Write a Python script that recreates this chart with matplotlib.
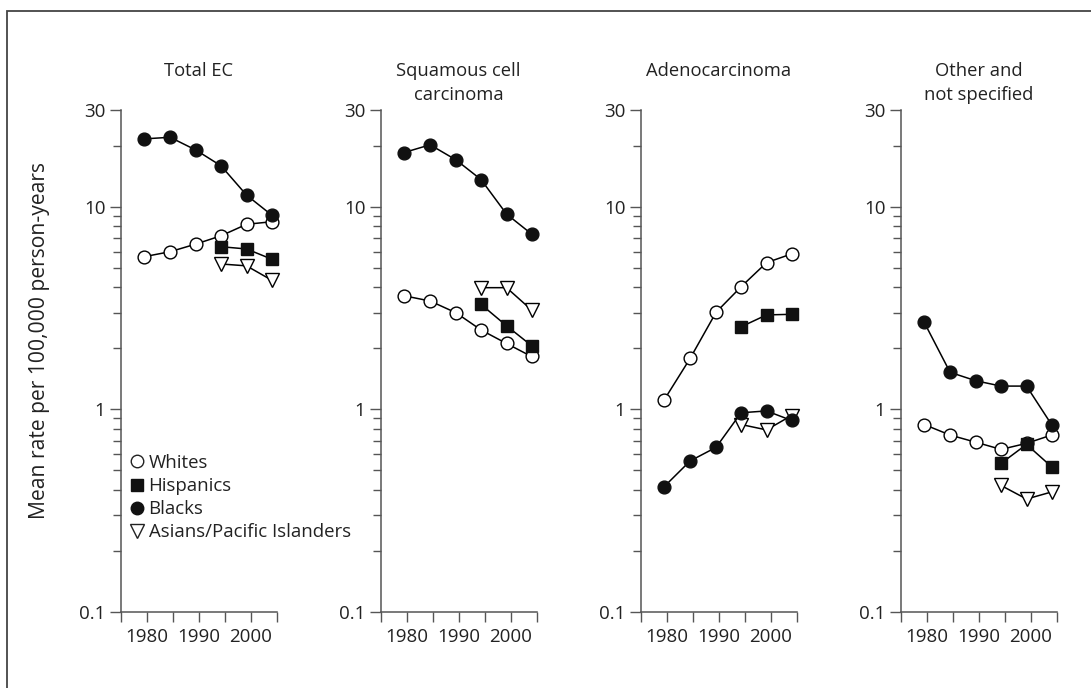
import numpy as np
import matplotlib
matplotlib.use("Agg")
import matplotlib.pyplot as plt
from matplotlib.lines import Line2D
from matplotlib.patches import Rectangle
from matplotlib.ticker import LogLocator, FixedLocator, NullFormatter, FixedFormatter

plt.rcParams['font.family'] = ['Open Sans', 'DejaVu Sans']

years = [1979.5, 1984.5, 1989.5, 1994.3, 1999.2, 2004.0]
panel_titles = ["Total EC", "Squamous cell\ncarcinoma", "Adenocarcinoma", "Other and\nnot specified"]
group_names = ["Whites", "Hispanics", "Blacks", "Asians/Pacific Islanders"]
nan = np.nan

whites = [
    [5.66, 5.99, 6.54, 7.18, 8.18, 8.42],
    [3.63, 3.42, 2.99, 2.46, 2.11, 1.82],
    [1.11, 1.78, 3.01, 4.02, 5.29, 5.84],
    [0.84, 0.745, 0.686, 0.633, 0.678, 0.745],
]
hispanics = [
    [nan, nan, nan, 6.34, 6.18, 5.51],
    [nan, nan, nan, 3.29, 2.58, 2.06],
    [nan, nan, nan, 2.55, 2.92, 2.94],
    [nan, nan, nan, 0.54, 0.67, 0.52],
]
blacks = [
    [21.6, 22.0, 19.0, 15.9, 11.4, 9.1],
    [18.5, 20.2, 17.0, 13.6, 9.19, 7.33],
    [0.414, 0.555, 0.648, 0.96, 0.98, 0.88],
    [2.69, 1.52, 1.38, 1.30, 1.30, 0.84],
]
asians = [
    [nan, nan, nan, 5.21, 5.10, 4.34],
    [nan, nan, nan, 3.98, 3.98, 3.09],
    [nan, nan, nan, 0.84, 0.79, 0.93],
    [nan, nan, nan, 0.42, 0.36, 0.39],
]

ylabel = "Mean rate per 100,000 person-years"
ytick_vals = [0.1, 1, 10, 30]
ytick_labels = ["0.1", "1", "10", "30"]
xtick_vals = [1975, 1980, 1985, 1990, 1995, 2000, 2005]
xtick_labels = ["", "1980", "", "1990", "", "2000", ""]

W, H = 1091, 688
fig = plt.figure(figsize=(W / 100, H / 100), dpi=100)

TXT = '#222222'
SP = '#555555'
FS_TICK = 13.5
FS_TITLE = 13.2
FS_LEG = 13.4
FS_YL = 15.2

def fx(px):
    return px / W

def fy(py):
    return 1 - py / H

# outer frame
fig.patches.append(Rectangle((fx(7), fy(700)), fx(1100), fy(11) - fy(700),
                             transform=fig.transFigure, fill=False,
                             edgecolor='#444444', linewidth=1.3))

lefts = [120.7, 380.7, 640.7, 900.7]
ax_w = 156.0
top_px, bot_px = 110.0, 611.7

styles = [
    (whites, dict(marker='o', mfc='white', mec='black', ms=9.2), 2),
    (hispanics, dict(marker='s', mfc='#111111', mec='#111111', ms=8.5), 3),
    (asians, dict(marker='v', mfc='white', mec='black', ms=10), 4),
    (blacks, dict(marker='o', mfc='#111111', mec='#111111', ms=9.2), 5),
]

axes = []
for i, left in enumerate(lefts):
    ax = fig.add_axes([fx(left), fy(bot_px), fx(ax_w), (bot_px - top_px) / H])
    axes.append(ax)
    for data, st, z in styles:
        ax.plot(years, data[i], color='black', lw=1.1, mew=1.0, zorder=z,
                clip_on=False, **st)
    ax.set_yscale('log')
    ax.set_ylim(0.1, 30)
    ax.set_xlim(1975, 2005)
    for s in ['top', 'right']:
        ax.spines[s].set_visible(False)
    for s in ['left', 'bottom']:
        ax.spines[s].set_color(SP)
        ax.spines[s].set_linewidth(1.1)
    ax.yaxis.set_major_locator(FixedLocator(ytick_vals))
    ax.yaxis.set_major_formatter(FixedFormatter(ytick_labels))
    ax.yaxis.set_minor_locator(LogLocator(base=10, subs=np.arange(2, 10)))
    ax.yaxis.set_minor_formatter(NullFormatter())
    ax.xaxis.set_major_locator(FixedLocator(xtick_vals))
    ax.xaxis.set_major_formatter(FixedFormatter(xtick_labels))
    ax.tick_params(axis='y', which='major', length=8, width=1.0, color=SP,
                   labelsize=FS_TICK, labelcolor=TXT, pad=3)
    ax.tick_params(axis='y', which='minor', length=6, width=1.0, color=SP)
    ax.tick_params(axis='x', which='major', length=7.5, width=1.0, color=SP,
                   labelsize=FS_TICK, labelcolor=TXT, pad=4)
    fig.text(fx(left + ax_w / 2), fy(62), panel_titles[i], ha='center', va='top',
             fontsize=FS_TITLE, color=TXT, linespacing=1.42)

fig.text(fx(40), fy(519), ylabel, rotation=90, ha='center', va='bottom',
         fontsize=FS_YL, color=TXT)

handles = [
    Line2D([], [], ls='none', marker='o', mfc='white', mec='#222222', ms=9, mew=1.0),
    Line2D([], [], ls='none', marker='s', mfc='#111111', mec='#111111', ms=8.5),
    Line2D([], [], ls='none', marker='o', mfc='#111111', mec='#111111', ms=9),
    Line2D([], [], ls='none', marker='v', mfc='white', mec='#222222', ms=9.5, mew=1.0),
]
leg = axes[0].legend(handles, group_names, loc='upper left',
                     bbox_to_anchor=(fx(130), fy(454)), bbox_transform=fig.transFigure,
                     frameon=False, fontsize=FS_LEG, handlelength=0.7, handletextpad=0.3,
                     labelspacing=0.27, borderpad=0, borderaxespad=0)
for t in leg.get_texts():
    t.set_color(TXT)

fig.savefig('out.png', dpi=100)
